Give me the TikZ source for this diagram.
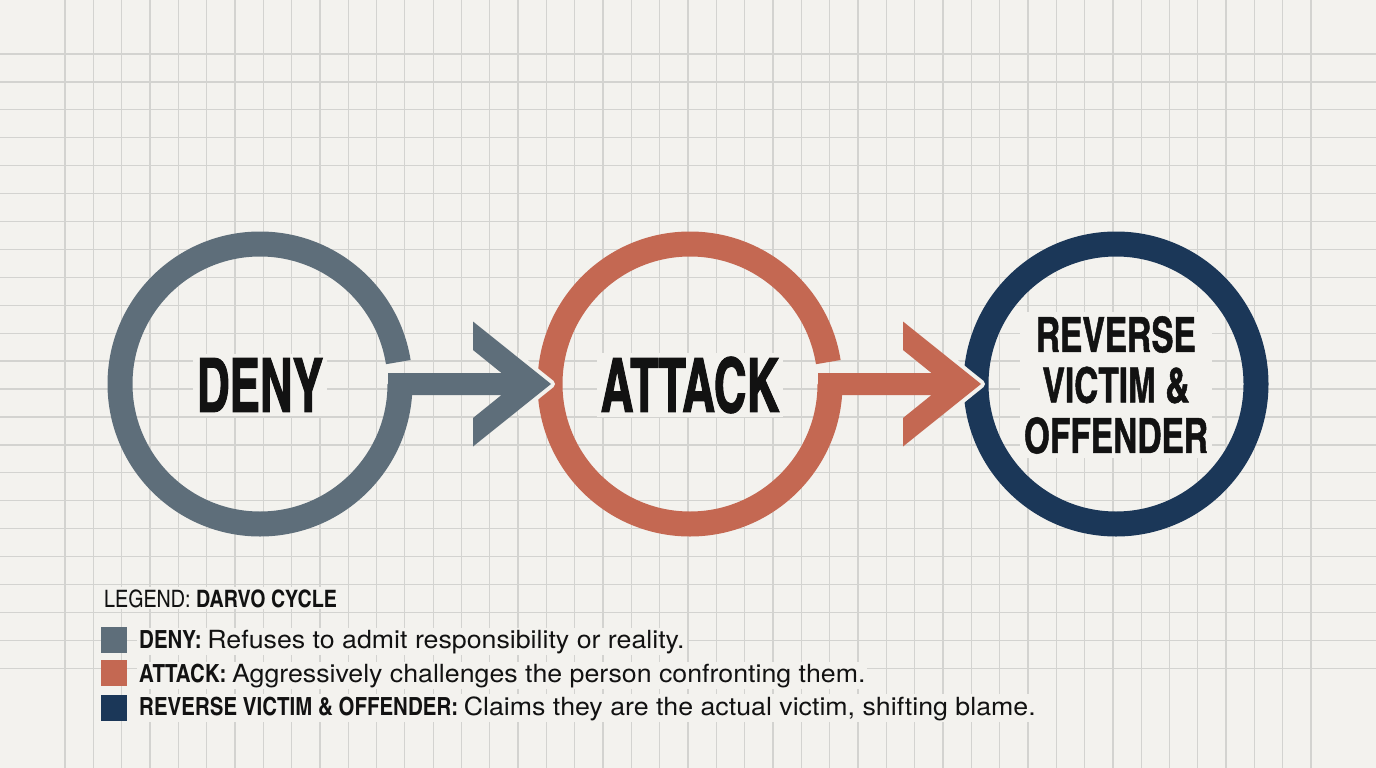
\documentclass[tikz,border=0pt]{standalone}
\usepackage{fontspec}
\usetikzlibrary{calc}
\newfontfamily\headfont{texgyreheroscn-bold.otf}[FakeStretch=0.74,FakeBold=1.2]
\newfontfamily\headfontb{texgyreheroscn-bold.otf}[FakeStretch=0.84,FakeBold=1]
\newfontfamily\legfont{texgyreheroscn-regular.otf}[BoldFont=texgyreheroscn-bold.otf]
\newfontfamily\descfont{texgyreheros-regular.otf}[FakeStretch=1.07]
\definecolor{bg}{HTML}{F3F2EE}
\definecolor{gridc}{HTML}{D3D3D0}
\definecolor{denyc}{HTML}{5E6E7A}
\definecolor{attackc}{HTML}{C46852}
\definecolor{revc}{HTML}{1B3758}
\definecolor{ink}{HTML}{121212}
\tikzset{
  gridline/.style={draw=gridc, line width=1.3pt},
  ringnode/.style={circle, minimum size=305pt, inner sep=0pt, draw=none},
  ringline/.style={line width=25pt},
  headtext/.style={fill=bg, text=ink, inner sep=4pt, font=\headfont\fontsize{75}{80}\selectfont},
  headtextb/.style={fill=bg, text=ink, inner sep=4pt, align=center, font=\headfontb\fontsize{48.6}{50.5}\selectfont},
  legsq/.style={minimum size=26pt, inner sep=0pt, draw=none},
  legtext/.style={fill=bg, text=ink, inner sep=2pt, anchor=base west, font=\legfont\fontsize{25}{30}\selectfont},
}
\newcommand\chevpath{(128,-11) -- (241.5,-11) -- (213,-34) -- (213,-62.5) -- (291,0) -- (213,62.5) -- (213,34) -- (241.5,11) -- (128,11) -- cycle}
\newcommand\chev[2]{%
  \begin{scope}[shift={(#1.center)}]
    \begin{scope}
      \clip (258,-90) rectangle (330,90);
      \draw[bg, line width=8pt, line join=round] \chevpath;
    \end{scope}
    \fill[#2] \chevpath;
  \end{scope}}
\begin{document}
\begin{tikzpicture}[x=1pt,y=-1pt]
\fill[bg] (0,0) rectangle (1376,768);
\useasboundingbox (0,0) rectangle (1376,768);
\foreach \k in {0,...,44} {\draw[gridline] ({65+28.32*\k},0) -- ({65+28.32*\k},768);}
\foreach \k in {0,...,22} {\draw[gridline] (0,{54+27.92*\k}) -- (1376,{54+27.92*\k});}
% nodes
\node[ringnode] (deny) at (260,384) {};
\node[ringnode] (attack) at (690,384) {};
\node[ringnode] (rev) at (1116,384) {};
% rings
\draw[denyc, ringline] ($(deny.center)+(0:140)$) arc[start angle=0, end angle=351, radius=140];
\draw[attackc, ringline] ($(attack.center)+(0:140)$) arc[start angle=0, end angle=351, radius=140];
\draw[revc, ringline] (rev.center) circle[radius=140];
% arrows
\chev{deny}{denyc}
\chev{attack}{attackc}
% headings
\node[headtext] (denyt) at ($(deny.center)+(0,1)$) {DENY};
\node[headtext] (attackt) at ($(attack.center)+(0,1)$) {ATTACK};
\node[headtextb] (revt) at ($(rev.center)+(0,1)$) {REVERSE\\VICTIM \&\\OFFENDER};
% legend
\node[legtext] (legt) at (102,607) {\fontsize{24}{28}\selectfont LEGEND: \textbf{DARVO CYCLE}};
\node[legsq, fill=denyc] (sq1) at (113.5,639.5) {};
\node[legsq, fill=attackc] (sq2) at (113.5,673) {};
\node[legsq, fill=revc] (sq3) at (113.5,707.5) {};
\node[legtext] (l1) at (137,648) {\textbf{DENY:} {\descfont Refuses to admit responsibility or reality.}};
\node[legtext] (l2) at (137,682) {\textbf{ATTACK:} {\descfont Aggressively challenges the person confronting them.}};
\node[legtext] (l3) at (137,715) {\textbf{REVERSE VICTIM \& OFFENDER:} {\descfont Claims they are the actual victim, shifting blame.}};
\end{tikzpicture}
\end{document}
